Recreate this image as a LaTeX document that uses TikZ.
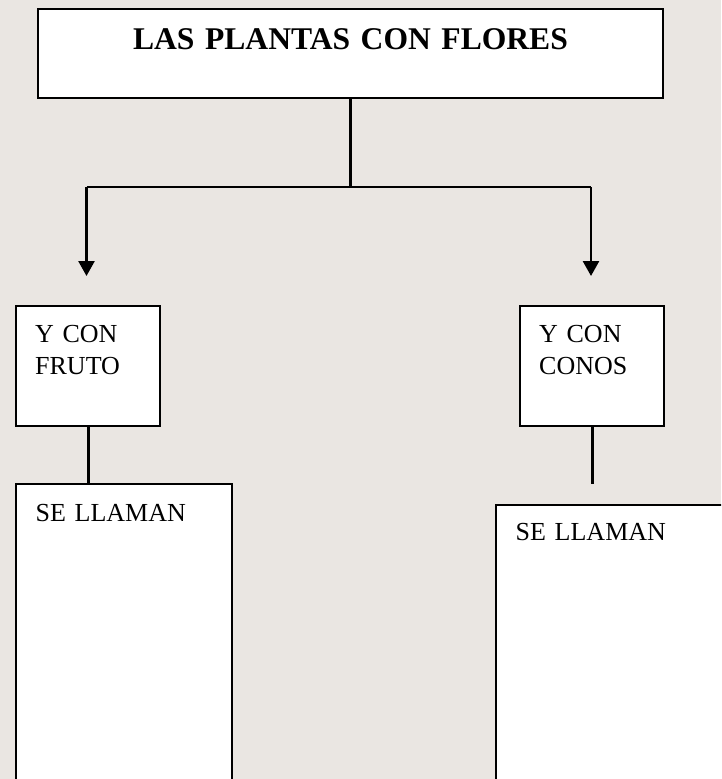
\documentclass[tikz,border=0pt]{standalone}
\usepackage{fontspec}
\setmainfont{Liberation Serif}
\usetikzlibrary{arrows.meta}
\definecolor{fondo}{RGB}{234,230,226}
\begin{document}
\begin{tikzpicture}[
x=1pt, y=-1pt,
tit/.style = {draw,fill=white,line width=2.4pt,inner sep=0pt,text width=625pt,align=center,
  text height=40pt,text depth=49pt,anchor=base,font=\fontsize{31.6}{38}\selectfont\bfseries},
cja/.style = {draw,fill=white,line width=2.4pt,inner ysep=0pt,inner xsep=19pt,text width=106pt,align=left,
  text height=36pt,text depth=84pt,anchor=north west,font=\fontsize{26}{32}\selectfont},
grd/.style = {draw,fill=white,line width=2.4pt,inner ysep=0pt,inner xsep=19.5pt,align=left,
  anchor=north west,font=\fontsize{26}{32}\selectfont},
lin/.style = {draw,line width=2.6pt},
flc/.style = {draw,line width=2.6pt,-{Triangle[length=15pt,width=16pt]}}
]
  \fill[fondo] (0,0) rectangle (721,779);
  \clip (0,0) rectangle (721,779);

  \node[tit] (plantas) at (350.5,49) {LAS PLANTAS CON FLORES};

  \node[cja] (fruto) at (15,305) {Y CON\\FRUTO};
  \node[cja] (conos) at (519,305) {Y CON\\CONOS};

  \node[grd,text width=177pt,text height=37pt,text depth=400pt] (llamanA) at (15,483) {SE LLAMAN};
  \node[grd,text width=200pt,text height=35pt,text depth=400pt] (llamanB) at (495,504) {SE LLAMAN};

  \coordinate (brazoA) at (86.5,187);
  \coordinate (brazoB) at (591,187);
  \coordinate (puntaA) at (86.5,276);
  \coordinate (puntaB) at (591,276);
  \coordinate (finB) at (591,484);

  \path[lin] (plantas.south) -- (plantas.south |- brazoA);
  \path[lin] (brazoA) -- (brazoB);
  \path[flc] (brazoA) -- (puntaA);
  \path[flc] (brazoB) -- (puntaB);

  \path[lin] (fruto.south) -- (fruto.south |- llamanA.north);
  \path[lin] (conos.south) -- (conos.south |- finB);
\end{tikzpicture}
\end{document}
